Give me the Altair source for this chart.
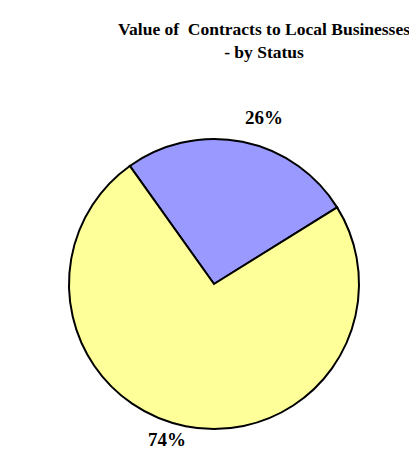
import math
import altair as alt
import pandas as pd

categories = ["Group A", "Group B"]
values = [26, 74]
labels = ["26%", "74%"]
colors = ["#9999FF", "#FFFF99"]
label_radius = [173, 163]
title_lines = ["Value of\u00a0 Contracts to Local Businesses", "- by Status"]

df = pd.DataFrame({"cat": categories, "value": values, "label": labels, "order": [0, 1],
                   "lr": label_radius})
tdf = pd.DataFrame({"line": title_lines, "y": [27, 50]})

start = math.radians(-35.5)
cx, cy, r = 206, 276, 145
font = "Liberation Serif"

base = alt.Chart(df).transform_window(
    cum="sum(value)", sort=[alt.SortField("order")], frame=[None, 0]
).transform_calculate(
    s="datum.cum - datum.value", mid="datum.cum - datum.value / 2"
)

pie = base.mark_arc(stroke="black", strokeWidth=2).encode(
    theta=alt.Theta("s:Q", scale=alt.Scale(domain=[0, 100], range=[start, start + 2 * math.pi])),
    theta2="cum:Q",
    color=alt.Color("cat:N", scale=alt.Scale(domain=categories, range=colors), legend=None),
    x=alt.value(cx), y=alt.value(cy), radius=alt.value(r),
)

shift = math.radians(5.5)
lab = base.mark_text(font=font, fontSize=19, fontWeight="bold", baseline="middle", align="center").encode(
    theta=alt.Theta("mid:Q", scale=alt.Scale(domain=[0, 100], range=[start + shift, start + shift + 2 * math.pi])),
    text="label:N",
    x=alt.value(cx), y=alt.value(cy),
    radius=alt.Radius("lr:Q", scale=None),
)

title = alt.Chart(tdf).mark_text(font=font, fontSize=17.5, fontWeight="bold", align="center", baseline="alphabetic").encode(
    text="line:N",
    x=alt.value(256),
    y=alt.Y("y:Q", scale=None),
)

chart = alt.layer(pie, lab, title).resolve_scale(theta="independent").properties(
    width=401, height=448, autosize=alt.AutoSizeParams(type="none"), padding=0
).configure_view(stroke=None)

chart.save("out.html", embed_options={"renderer": "svg", "actions": False})
